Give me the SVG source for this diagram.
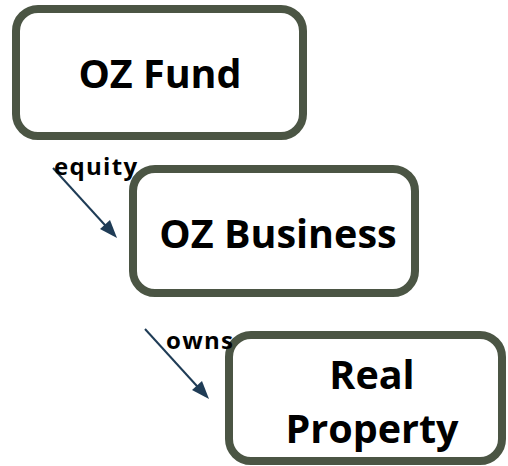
<svg xmlns="http://www.w3.org/2000/svg" width="508" height="466" viewBox="0 0 508 466">
  <style>
    .box { fill: #ffffff; stroke: #4b5544; stroke-width: 8; }
    .title { font-family: "Open Sans", "Liberation Sans", sans-serif; font-weight: bold; font-size: 39.5px; fill: #000000; text-anchor: middle; }
    .label { font-family: "Open Sans", "Liberation Sans", sans-serif; font-weight: bold; font-size: 24px; letter-spacing: 1.3px; fill: #000000; }
    .link { stroke: #1f3c56; stroke-width: 2; fill: none; }
    .head { fill: #1f3c56; }
  </style>
  <rect width="508" height="466" fill="#ffffff"/>

  <g id="connectors">
    <line class="link" x1="53" y1="168" x2="114" y2="235"/>
    <path class="head" d="M117,238 L100,229 L110,220 Z"/>
    <line class="link" x1="145" y1="329" x2="206" y2="396"/>
    <path class="head" d="M209,399 L192,390 L202,381 Z"/>
  </g>

  <g id="oz-fund">
    <rect class="box" x="16" y="9" width="287" height="127" rx="22"/>
    <text class="title" x="160" y="88">OZ Fund</text>
  </g>

  <g id="oz-business">
    <rect class="box" x="133" y="169" width="282" height="124" rx="22"/>
    <text class="title" x="278" y="248">OZ Business</text>
  </g>

  <g id="real-property">
    <rect class="box" x="229" y="335" width="273" height="126" rx="22"/>
    <text class="title" x="372" y="389">Real</text>
    <text class="title" x="372" y="443">Property</text>
  </g>

  <g id="edge-labels">
    <text class="label" x="54" y="175">equity</text>
    <text class="label" x="166" y="349">owns</text>
  </g>
</svg>
